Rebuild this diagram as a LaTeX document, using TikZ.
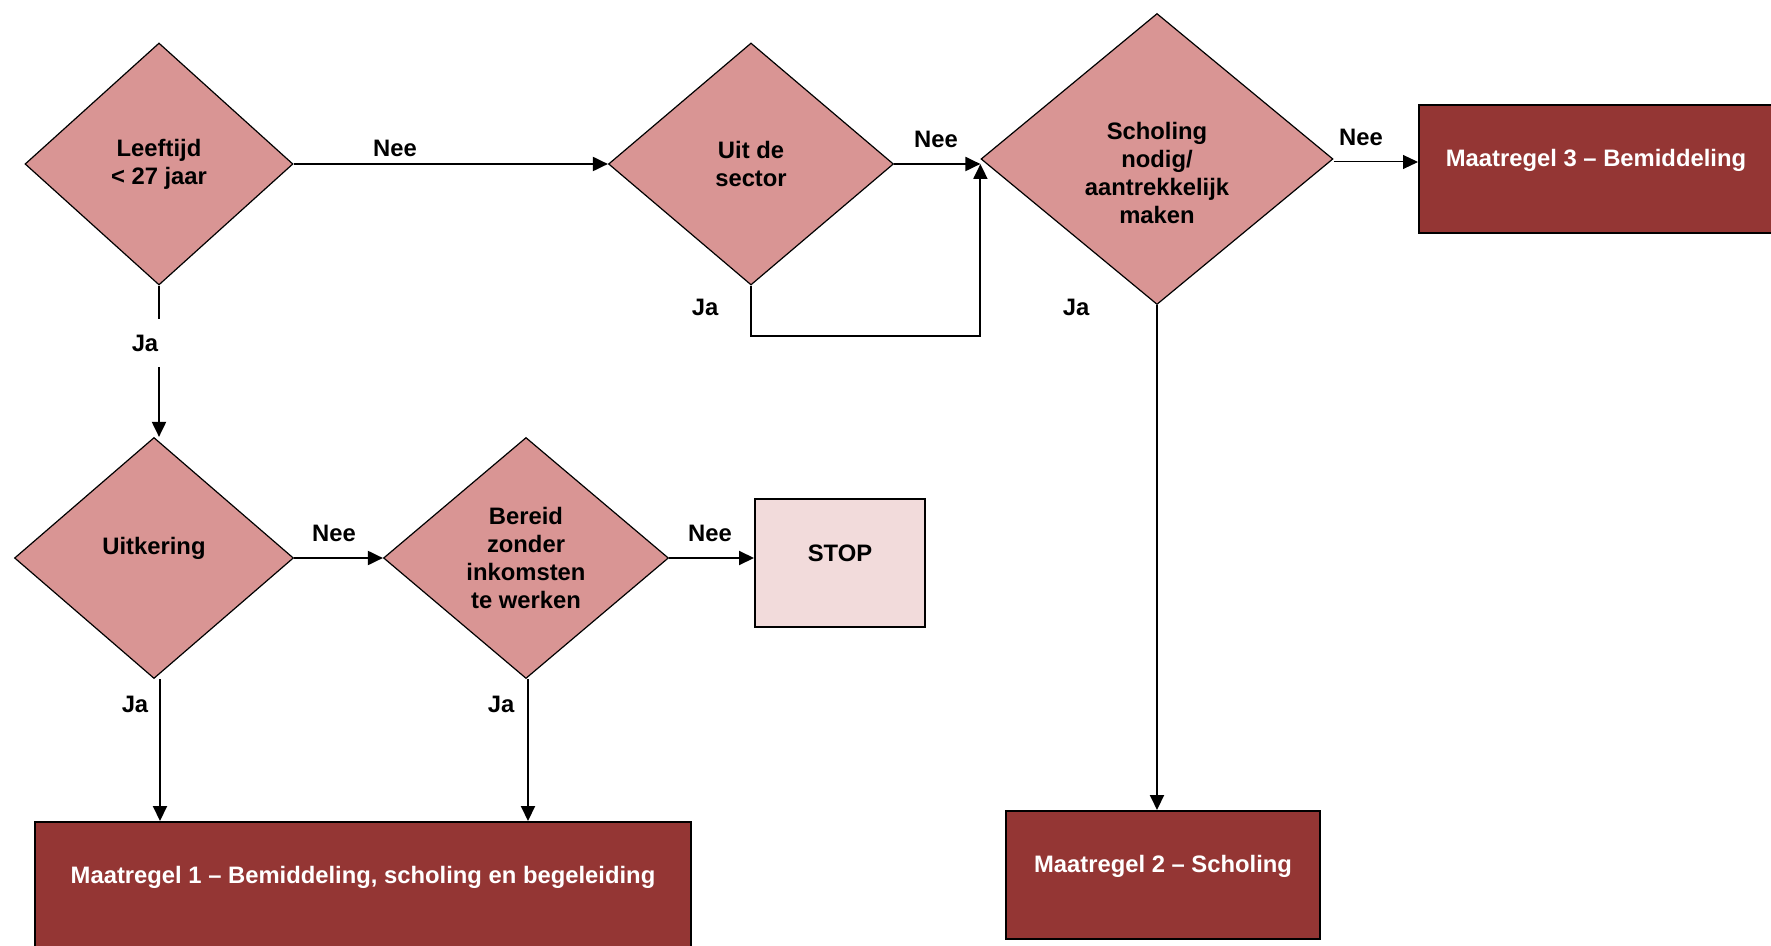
\documentclass[tikz,border=0pt]{standalone}
\usepackage{fontspec}
\setmainfont{Liberation Sans}
\usetikzlibrary{shapes.geometric, arrows.meta}
\definecolor{rose_pink}{HTML}{D99594}
\definecolor{brick_red}{HTML}{943634}
\definecolor{pale_pink}{HTML}{F2DBDB}

\begin{document}
\begin{tikzpicture}[
    x=0.5pt, y=-0.5pt,
    font=\fontsize{11.9}{14}\selectfont\bfseries,
    decision/.style={
        diamond,
        draw=black,
        fill=rose_pink,
        line width=0.6pt,
        inner sep=0pt,
        align=center
    },
    measure/.style={
        rectangle,
        draw=black,
        fill=brick_red,
        line width=1pt,
        text=white,
        minimum height=64pt,
        text height=8.7pt,
        text depth=11pt
    },
    stopbox/.style={
        rectangle,
        draw=black,
        fill=pale_pink,
        line width=1pt,
        minimum width=85pt,
        minimum height=64pt,
        text height=8.7pt,
        text depth=10.6pt
    },
    answer/.style={
        text=black,
        inner sep=1pt
    },
    arrow/.style={
        -{Triangle[length=7.5pt, width=7pt]},
        line width=1pt
    }
]
\useasboundingbox (0,0) rectangle (1771,946);

% Questions, top row
\node[decision, minimum width=134pt, minimum height=121pt] (leeftijd) at (159,164) {Leeftijd\\< 27 jaar};
\node[decision, minimum width=142.5pt, minimum height=121pt] (sector) at (751,164) {Uit de\\sector};
\node[decision, minimum width=176pt, minimum height=145.5pt] (scholing) at (1157,159) {\rule{0pt}{22.7pt}Scholing\\nodig/\\aantrekkelijk\\maken};

% Questions, second row
\node[decision, minimum width=139.5pt, minimum height=120.5pt, text height=8.7pt, text depth=12.6pt] (uitkering) at (154,558) {Uitkering};
\node[decision, minimum width=142.5pt, minimum height=120.5pt] (bereid) at (526,558) {Bereid\\zonder\\inkomsten\\te werken};
\node[stopbox] (stop) at (840,563) {STOP};

% Measures
\node[measure, minimum width=328pt] (maatregel1) at (363,886) {Maatregel 1 – Bemiddeling, scholing en begeleiding};
\node[measure, minimum width=157pt] (maatregel2) at (1163,875) {Maatregel 2 – Scholing};
\node[measure, minimum width=177pt] (maatregel3) at (1596,169) {Maatregel 3 – Bemiddeling};

% Answers
\node[answer] (nee1) at (395,148) {Nee};
\node[answer] (nee2) at (936,139) {Nee};
\node[answer] (nee3) at (1361,137) {Nee};
\node[answer] (nee4) at (334,533) {Nee};
\node[answer] (nee5) at (710,533) {Nee};
\node[answer, minimum height=24pt] (ja1) at (145,343) {Ja};
\node[answer] (ja2) at (705,307) {Ja};
\node[answer] (ja3) at (1076,307) {Ja};
\node[answer] (ja4) at (135,704) {Ja};
\node[answer] (ja5) at (501,704) {Ja};

% Arrows
\draw[arrow] (leeftijd.east) -- (sector.west);
\draw[line width=1pt] (leeftijd.south) -- (leeftijd.south |- ja1.north);
\draw[arrow] (leeftijd.south |- ja1.south) -- (leeftijd.south |- uitkering.north);

\draw[arrow] (sector.east) -- (sector.east -| scholing.west);
\draw[arrow] (sector.south) -- ++(0,50) -| (sector.east -| scholing.west);

\draw[arrow, line width=0.5pt] ([yshift=-1.5pt]scholing.east) -- ([yshift=-1.5pt]scholing.east -| maatregel3.west);
\draw[arrow] (scholing.south) -- (scholing.south |- maatregel2.north);

\draw[arrow] (uitkering.east) -- (bereid.west);
\draw[arrow] (bereid.east) -- (bereid.east -| stop.west);
\draw[arrow] ([xshift=3pt]uitkering.south) -- ([xshift=3pt]uitkering.south |- maatregel1.north);
\draw[arrow] ([xshift=1pt]bereid.south) -- ([xshift=1pt]bereid.south |- maatregel1.north);

\end{tikzpicture}
\end{document}
